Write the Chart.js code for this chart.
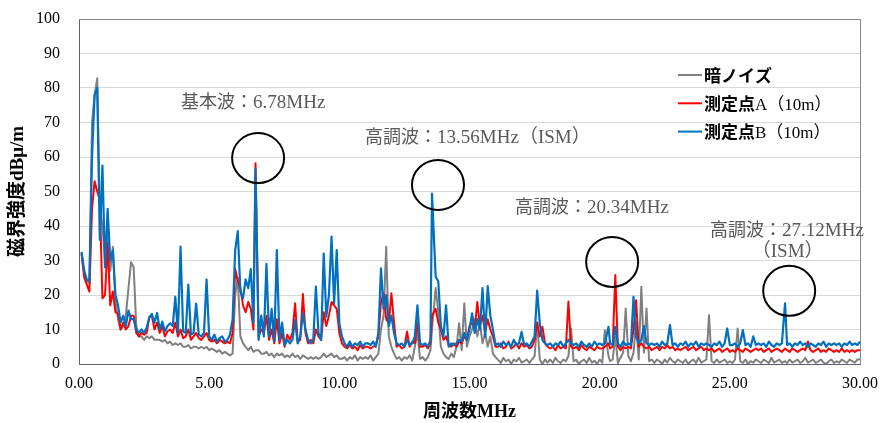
<!DOCTYPE html>
<html>
<head>
<meta charset="utf-8">
<script src="https://cdn.jsdelivr.net/npm/chart.js@4/dist/chart.umd.min.js"></script>
<style>
  html, body { margin: 0; padding: 0; background: #fff; }
  canvas { display: block; }
</style>
</head>
<body>
<canvas id="c" width="889" height="423"></canvas>
<script>
// Magnetic field strength spectrum, 0.1–30 MHz, 0.1 MHz bins.
// Harmonic frequencies of the 6.78 MHz carrier; the nearest bins sit exactly on them.
const harmonicsMHz = [6.78, 13.56, 20.34, 27.12];

// Dark noise (background), one row per MHz
const darkNoise = [
  32, 26, 24, 23.5, 70, 78, 82.8, 45, 40, 30,
  38, 27, 34, 18, 13, 10, 11, 14, 22, 29.5,
  28, 11, 8, 8, 7, 8, 7.5, 8, 7, 7,
  7, 6.5, 7, 6, 6.5, 5.5, 6, 5.5, 6, 5,
  5, 5.5, 4.5, 5, 5, 4.5, 5, 4.5, 5, 4,
  4.5, 4, 3.5, 4, 3, 3.5, 3, 2.5, 3, 20,
  25, 8, 6, 5, 4, 5, 3.5, 4, 4, 3,
  3, 3.5, 2.5, 3, 2, 3, 2.5, 3, 2, 2.5,
  2, 3, 2, 2.5, 1.5, 2.5, 2, 1.5, 2, 1.5,
  2, 1.5, 2, 3, 2, 2.5, 3, 2, 2.5, 1.5,
  1.5, 2, 1, 2, 1.5, 2.5, 1, 2, 1.5, 2,
  1.5, 2.5, 1, 2, 3, 10, 14, 34, 8, 5,
  3, 1.5, 2, 1, 2, 1.5, 2.5, 1, 5, 9,
  1.5, 2, 1, 2, 4, 10, 22, 15, 5, 3,
  2, 1.5, 3, 2, 5, 11.8, 4, 17.6, 5, 8,
  10, 13, 8, 12, 6, 9, 5, 8, 3, 2,
  1.2, 0.3, 1.8, 0.8, 1.3, 0, 1.3, 0.8, 1.8, 0.4,
  0.8, 1.3, 0.3, 1.3, 2.3, 12, 1.3, 0, 1.3, 0.4,
  1.3, 0.3, 1.8, 0.8, 0.3, 1.3, 0.8, 2.3, 10.3, 0.8,
  1.2, 0, 0.8, 1.3, 0.3, 1.8, 0.4, 0.9, 0, 1.3,
  0.4, 9.8, 2.3, 0.8, 1.3, 8, 0.3, 1.8, 3.3, 16.1,
  2.3, 0.8, 3.3, 12, 1.3, 22.4, 3.3, 16.1, 0.8, 1.3,
  0.3, 1.3, 0.8, 0, 1.3, 0.4, 1.8, 0.8, 0.3, 1.3,
  0.8, 0.3, 1.3, 0, 0.8, 1.3, 0.3, 1.8, 0.4, 0.8,
  1.3, 14.2, 0.8, 0.3, 1.3, 0.4, 0.8, 1.3, 0.3, 0.8,
  0.3, 1.3, 10.3, 0.8, 0.3, 1.3, 0, 0.8, 0.4, 1.3,
  0.8, 0.3, 1.3, 0.8, 0.3, 1.8, 0.4, 0.8, 1.3, 0.3,
  0.8, 0.3, 1.3, 0.4, 0.8, 1.3, 0.3, 0.8, 1.8, 0.4,
  0.8, 1.3, 0.3, 0.8, 1.3, 0.4, 0, 0.8, 1.3, 0.3,
  0.8, 0.4, 1.3, 0.8, 0.3, 1.3, 0.8, 0.4, 1.3, 1.3
];

// Measurement point A (10 m)
const pointA = [
  32, 25, 23, 21, 45, 53, 50, 47.5, 19, 20,
  35, 17, 21, 15, 14.5, 10, 12, 10, 11, 14,
  14, 9, 8, 9, 8.5, 9, 13.5, 14, 10, 12,
  9, 11, 8, 9.5, 10, 9, 12, 8, 10, 7.5,
  8, 10, 7, 8, 9, 7.5, 7, 8, 9, 7,
  6.5, 7, 6, 7, 6.5, 6, 6.5, 6, 9, 27.5,
  24, 22, 17, 15, 18, 16, 10, 58.2, 8, 10,
  9, 14, 7, 10, 6, 13, 6, 9, 5, 8.5,
  7, 9, 17.6, 6.5, 7, 20.3, 9, 6, 7, 6,
  10, 8, 7, 15, 11, 14, 18, 17, 16, 9,
  6, 5, 4.5, 5.5, 4.5, 5, 4, 5.5, 4.5, 5,
  5, 4.5, 5, 5.5, 8, 18, 20.5, 13, 11.8, 20.5,
  12, 5, 5.5, 4.5, 5, 9.4, 5, 6.5, 6, 12,
  5, 5, 5.5, 4.5, 6, 14, 16, 12, 10, 7,
  8, 5.5, 5, 6, 5, 6.5, 6, 8, 7, 11,
  12, 10, 18, 11, 14, 9, 13, 10, 8, 5,
  5, 6, 4.5, 5, 6.5, 4.5, 5, 6, 4.5, 6,
  5, 5.5, 4.5, 5, 7, 12, 8, 10.8, 6, 5,
  4.5, 5, 4, 5.5, 4.5, 5, 4.5, 18.1, 5, 4.5,
  5, 4, 5.5, 4.5, 4, 5, 4.5, 4, 5, 4.5,
  4.5, 5, 6, 4.5, 5, 25.8, 5, 4, 5, 4.5,
  5, 4.5, 10, 18.5, 5, 6, 5, 4.5, 5, 4,
  4.5, 5, 4, 5, 4.5, 5.5, 4.5, 5, 4, 4.5,
  4, 4.5, 5, 4, 4.5, 5, 4, 4.5, 5, 4,
  4.5, 4, 4.5, 3.5, 4, 4.5, 3.5, 4, 4.5, 3.5,
  4, 3.5, 4.5, 4, 3.5, 4.5, 4, 3.5, 4, 4.5,
  4, 4.5, 3.5, 4, 4.5, 3.5, 4, 4.5, 4, 3.5,
  4.5, 4, 3.5, 4.5, 4, 3.5, 4, 4.5, 4, 6.5,
  4, 3.5, 4, 4.5, 3.5, 4, 3.5, 4.5, 4, 3.5,
  4, 3.5, 4.5, 3.5, 4, 3.5, 4, 3.5, 4, 4
];

// Measurement point B (10 m)
const pointB = [
  32.5, 27, 24.5, 24, 60, 78, 80, 36, 57.5, 28,
  45, 30, 33, 20, 17, 12, 14, 11, 15.5, 13,
  13, 10, 9, 10, 9, 10.5, 13.5, 14.5, 12, 14.8,
  10, 12.3, 9.5, 11, 11.8, 11, 19.5, 9, 34, 9.5,
  9, 23, 8.5, 9, 17.5, 8.5, 8, 9, 24.5, 8,
  7, 8.5, 6.5, 7.5, 8, 6.5, 7, 8.5, 13, 33,
  38.5, 21, 19, 24.5, 22, 27.5, 12, 56.5, 7, 14,
  8, 29, 8, 16, 6.5, 33, 7, 12, 5.5, 7,
  6, 7, 12.7, 6, 8, 14.7, 10, 7, 6, 7,
  22.4, 9, 7, 32, 13.7, 20, 36.9, 17.6, 33, 11.8,
  8, 6, 5, 6.5, 5, 6, 5.5, 6.5, 5, 6,
  6, 5.5, 6.5, 5, 9, 27.7, 16, 20, 11, 14,
  9, 6, 5.5, 6, 5, 7, 5.5, 6, 8, 17,
  6, 5.5, 6, 5, 7, 49.4, 25.3, 24, 11, 8,
  17, 5, 6, 5.5, 6, 7, 6.5, 9, 7, 10,
  14.7, 9, 13, 10, 22, 8, 22.6, 14, 10, 5.5,
  6, 5, 6.5, 5.5, 6, 5, 7, 5.5, 6, 9.3,
  5.5, 6, 5, 6.5, 8, 21.3, 11.8, 7, 6, 5.5,
  6, 5, 6, 5.5, 6.5, 5, 6, 7, 6, 5.5,
  6, 5, 6.5, 5.5, 5, 6, 5, 6.5, 5.5, 6,
  5.5, 6, 10.8, 6, 5.5, 10.8, 6, 5, 6.5, 5.5,
  6, 5.5, 19.5, 8, 6, 7, 11, 6, 5.5, 6,
  5.5, 6, 5, 6.5, 5.5, 6, 11.3, 5.5, 6, 5,
  6, 5.5, 6.5, 5, 6, 5.5, 6.5, 5, 6, 5.5,
  6, 5.5, 5, 6, 5.5, 6.5, 5, 6, 10.3, 5.5,
  5.5, 6, 5, 6, 9.8, 5.5, 6, 5, 8, 5.5,
  6, 5.5, 6, 5, 6.5, 5.5, 5, 6, 5.5, 6,
  17.6, 5.5, 6, 5, 6, 5.5, 6.5, 5.5, 6, 5,
  6, 5.5, 5, 6, 5.5, 6.5, 5, 6, 5.5, 6,
  5.5, 6, 5, 6, 5.5, 6.5, 5.5, 6, 5.5, 6.5
];

// Frequency bins (MHz): 0.1 MHz grid, snapped onto the harmonic frequencies
const freqMHz = pointB.map((_, i) => {
  const f = (i + 1) / 10;
  const h = harmonicsMHz.find(hf => Math.abs(hf - f) < 0.05);
  return h !== undefined ? h : f;
});

const xTicksMHz = [0, 5, 10, 15, 20, 25, 30];

const SERIF = "'Liberation Serif', 'Noto Sans CJK JP', serif";
const CJK = "'Noto Sans CJK JP', sans-serif";

const toXY = vals => vals.map((v, i) => ({ x: freqMHz[i], y: v }));

// Callouts around the carrier and its harmonics
const callouts = [
  { text: `基本波：${harmonicsMHz[0]}MHz`, f: 3.92, v: 74.2 },
  { text: `高調波：${harmonicsMHz[1]}MHz（ISM）`, f: 10.99, v: 64.1 },
  { text: `高調波：${harmonicsMHz[2]}MHz`, f: 16.75, v: 43.8 },
  { text: `高調波：${harmonicsMHz[3]}MHz`, f: 24.24, v: 37.0 },
  { text: '（ISM）', f: 27.22, v: 31.0, center: true }
];
const rings = [
  { f: 6.88, v: 59.7 },
  { f: 13.79, v: 51.9 },
  { f: 20.48, v: 29.6 },
  { f: 27.28, v: 21.2 }
];

const isCJK = ch => /[\u3040-\u30ff\u3400-\u9fff\uff01-\uff5e]/.test(ch) && !/[（）]/.test(ch);

// Draws a string in runs: CJK glyphs in one font, everything else in another
function runsWidth(ctx, text, cjkFont, latinFont) {
  let w = 0;
  for (const ch of text) { ctx.font = isCJK(ch) ? cjkFont : latinFont; w += ctx.measureText(ch).width; }
  return w;
}
function drawRuns(ctx, text, x, y, cjkFont, latinFont) {
  let cx = x;
  for (const ch of text) {
    ctx.font = isCJK(ch) ? cjkFont : latinFont;
    ctx.fillText(ch, cx, y);
    cx += ctx.measureText(ch).width;
  }
}

const framePlugin = {
  id: 'frame',
  beforeDatasetsDraw(chart) {
    const { ctx, chartArea: a } = chart;
    ctx.save();
    ctx.strokeStyle = '#7f8892';
    ctx.lineWidth = 1;
    ctx.beginPath();
    ctx.moveTo(a.left, a.top + 0.5);
    ctx.lineTo(a.right + 0.5, a.top + 0.5);
    ctx.lineTo(a.right + 0.5, a.bottom);
    ctx.stroke();
    ctx.restore();
  }
};

const calloutPlugin = {
  id: 'callouts',
  afterDatasetsDraw(chart) {
    const { ctx, scales: { x, y } } = chart;
    ctx.save();
    ctx.strokeStyle = '#000';
    ctx.lineWidth = 2;
    rings.forEach(r => {
      ctx.beginPath();
      ctx.ellipse(x.getPixelForValue(r.f), y.getPixelForValue(r.v), 26, 25, 0, 0, Math.PI * 2);
      ctx.stroke();
    });
    ctx.fillStyle = '#595959';
    ctx.textBaseline = 'alphabetic';
    ctx.textAlign = 'left';
    const cjkFont = `18px ${CJK}`;
    const latinFont = `19px ${SERIF}`;
    callouts.forEach(c => {
      let px = x.getPixelForValue(c.f);
      if (c.center) px -= runsWidth(ctx, c.text, cjkFont, latinFont) / 2;
      drawRuns(ctx, c.text, px, y.getPixelForValue(c.v), cjkFont, latinFont);
    });
    ctx.restore();
  }
};

const legendPlugin = {
  id: 'sideLegend',
  afterDraw(chart) {
    const { ctx, chartArea: a } = chart;
    const x0 = a.right - 182;
    ctx.save();
    chart.data.datasets.forEach((ds, i) => {
      const yy = a.top + 56 + i * 28.3;
      ctx.strokeStyle = ds.borderColor;
      ctx.lineWidth = 2;
      ctx.beginPath();
      ctx.moveTo(x0, yy);
      ctx.lineTo(x0 + 24, yy);
      ctx.stroke();
      ctx.fillStyle = '#000';
      ctx.textBaseline = 'alphabetic';
      drawRuns(ctx, ds.label, x0 + 26, yy + 6.5, `bold 17px ${CJK}`, `17px ${SERIF}`);
    });
    ctx.restore();
  }
};

new Chart(document.getElementById('c'), {
  type: 'line',
  data: {
    datasets: [
      { label: '暗ノイズ', data: toXY(darkNoise), borderColor: '#808080', borderWidth: 2, order: 3 },
      { label: '測定点A（10m）', data: toXY(pointA), borderColor: '#ff0000', borderWidth: 2, order: 2 },
      { label: '測定点B（10m）', data: toXY(pointB), borderColor: '#0070c0', borderWidth: 2.2, order: 1 }
    ]
  },
  options: {
    responsive: false,
    animation: false,
    layout: { padding: { top: 19, right: 29, bottom: 0, left: 0 } },
    elements: { point: { radius: 0 }, line: { tension: 0, borderJoinStyle: 'round' } },
    plugins: { legend: { display: false }, tooltip: { enabled: false } },
    scales: {
      x: {
        type: 'linear', min: 0, max: 30,
        afterBuildTicks: s => { s.ticks = xTicksMHz.map(v => ({ value: v })); },
        ticks: { callback: v => Number(v).toFixed(2), color: '#000', font: { family: SERIF, size: 16 }, padding: 10, maxRotation: 0 },
        grid: { display: false, drawTicks: false },
        border: { display: true, color: '#5b6470', width: 1 },
        title: { display: true, text: '周波数MHz', color: '#000', font: { family: SERIF, size: 18, weight: 'bold' }, padding: { top: 0, bottom: 0 } },
        afterFit: s => { s.height = 59; }
      },
      y: {
        min: 0, max: 100,
        ticks: { stepSize: 10, color: '#000', font: { family: SERIF, size: 16 }, padding: 19 },
        grid: { color: '#d9d9d9', lineWidth: 1, drawTicks: false },
        border: { display: true, color: '#5b6470', width: 1 },
        title: { display: true, text: '磁界強度dBμ/m', color: '#000', font: { family: SERIF, size: 19, weight: 'bold' }, padding: { top: 7, bottom: 0 } },
        afterFit: s => { s.width = 79; s.paddingTop = 0; s.paddingBottom = 0; }
      }
    }
  },
  plugins: [framePlugin, calloutPlugin, legendPlugin]
});
</script>
</body>
</html>
